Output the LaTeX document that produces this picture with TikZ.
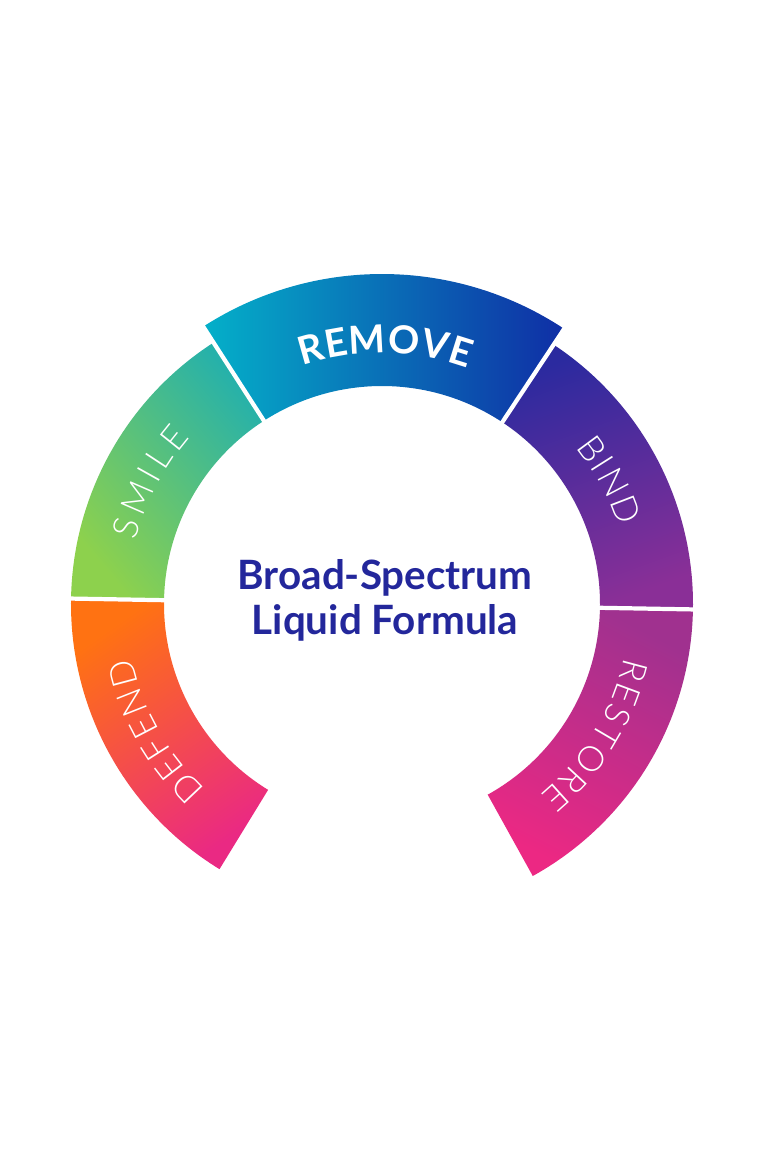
\documentclass[tikz,border=0pt]{standalone}
\usepackage{fontspec}
\setmainfont{Lato}
\IfFontExistsTF{Lato Light}{\newfontfamily\segfamily{Lato Light}}{\newfontfamily\segfamily{Lato}}
\usetikzlibrary{decorations.text}

\definecolor{smileA}{HTML}{8DD14D}
\definecolor{smileB}{HTML}{26B1AA}
\definecolor{removeA}{HTML}{04B0C9}
\definecolor{removeB}{HTML}{0F2EA5}
\definecolor{bindA}{HTML}{2B2A9F}
\definecolor{bindB}{HTML}{8A2F97}
\definecolor{restoreA}{HTML}{A0318F}
\definecolor{restoreB}{HTML}{EC2883}
\definecolor{defendA}{HTML}{FF7212}
\definecolor{defendB}{HTML}{EA2983}
\definecolor{titleblue}{HTML}{23279B}

\newcommand{\segfont}{\segfamily\fontsize{20}{20}\selectfont}
\newcommand{\bigsegfont}{\fontsize{22}{22}\selectfont\bfseries}

\begin{document}
\begin{tikzpicture}[x=0.02cm, y=0.02cm,
  every node/.style={inner sep=0pt, outer sep=0pt},
  gap/.style={white, line width=2.4pt},
  arctext/.style={decorate, decoration={text along path, text color=white,
    text align={fit to path}, text={#1}}},
  title/.style={font=\fontsize{23}{27}\selectfont\bfseries, text=titleblue, anchor=base}]
\useasboundingbox (-382,-548) rectangle (386,604);

% ring pieces
\shade[top color=removeA, bottom color=removeB, shading angle=90] (56.5:218) arc[start angle=56.5, end angle=122.8, radius=218] -- (122.8:330) arc[start angle=122.8, end angle=56.5, radius=330] -- cycle;
\shade[top color=smileB, bottom color=smileA, shading angle=-50] (122.8:218) arc[start angle=122.8, end angle=179, radius=218] -- (179:311) arc[start angle=179, end angle=122.8, radius=311] -- cycle;
\shade[top color=defendA, bottom color=defendB, shading angle=35] (179:218) arc[start angle=179, end angle=238.5, radius=218] -- (238.5:311) arc[start angle=238.5, end angle=179, radius=311] -- cycle;
\shade[top color=bindA, bottom color=bindB, shading angle=20] (-1:218) arc[start angle=-1, end angle=56.5, radius=218] -- (56.5:311) arc[start angle=56.5, end angle=-1, radius=311] -- cycle;
\shade[top color=restoreA, bottom color=restoreB, shading angle=-27] (-61:218) arc[start angle=-61, end angle=-1, radius=218] -- (-1:311) arc[start angle=-1, end angle=-61, radius=311] -- cycle;

% white cuts
\draw[gap] (122.8:210) -- (122.8:340);
\draw[gap] (56.5:210) -- (56.5:340);
\draw[gap] (179:210) -- (179:320);
\draw[gap] (-1:210) -- (-1:320);

% words on the ring
\path[arctext={|\bigsegfont|REMOVE}] (108.5:251) arc[start angle=108.5, end angle=70, radius=251];
\path[arctext={|\segfont|SMILE}] (165.5:254) arc[start angle=165.5, end angle=139, radius=254];
\path[arctext={|\segfont|DEFEND}] (226.5:256) arc[start angle=226.5, end angle=192, radius=256];
\path[arctext={|\segfont|BIND}] (39:249) arc[start angle=39, end angle=18, radius=249];
\path[arctext={|\segfont|RESTORE}] (-12.5:248) arc[start angle=-12.5, end angle=-50.5, radius=248];

% middle
\node[title] (line1) at (3,14) {Broad-Spectrum};
\node[title] (line2) at (3,-31) {Liquid Formula};
\end{tikzpicture}
\end{document}
